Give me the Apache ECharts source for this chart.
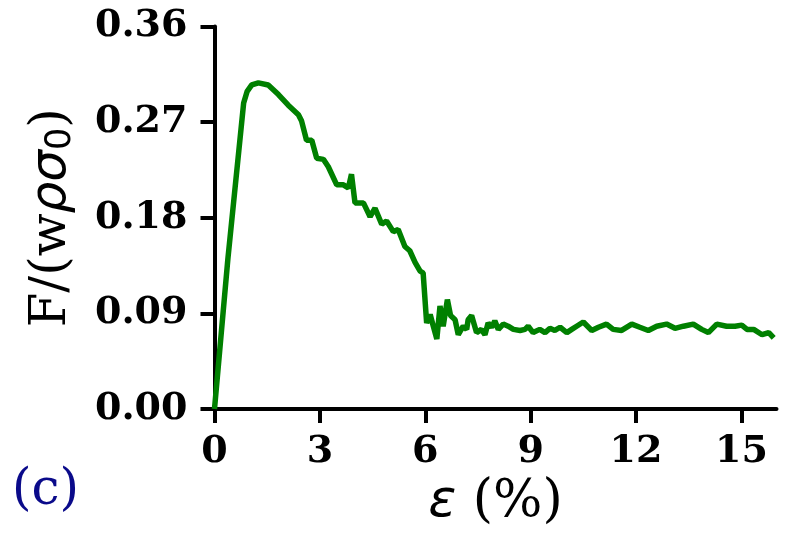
<!DOCTYPE html>
<html>
<head>
<meta charset="utf-8">
<script src="https://cdn.jsdelivr.net/npm/echarts@6/dist/echarts.min.js"></script>
<style>
html, body { margin: 0; padding: 0; background: #fff; }
#main { width: 793px; height: 533px; }
</style>
</head>
<body>
<div id="main"></div>
<script>
// strain (%) and normalised force
var strain = [0, 0.38, 0.83, 0.93, 1.06, 1.25, 1.53, 1.82, 2.10, 2.39, 2.48, 2.62, 2.77, 2.91, 3.10, 3.24,
	3.48, 3.67, 3.81, 3.90, 4.00, 4.24, 4.43, 4.57, 4.76, 4.90, 5.09, 5.23, 5.42, 5.56, 5.71, 5.85, 5.94,
	6.04, 6.14, 6.23, 6.33, 6.42, 6.51, 6.63, 6.72, 6.85, 6.94, 7.08, 7.18, 7.22, 7.32, 7.46, 7.60, 7.70,
	7.79, 7.89, 7.98, 8.08, 8.22, 8.36, 8.51, 8.70, 8.84, 8.93, 9.07, 9.26, 9.41, 9.55, 9.69, 9.84, 10.03,
	10.17, 10.31, 10.50, 10.74, 10.93, 11.16, 11.35, 11.59, 11.88, 12.11, 12.35, 12.59, 12.87, 13.11,
	13.35, 13.63, 13.87, 14.06, 14.30, 14.58, 14.82, 15.01, 15.16, 15.35, 15.59, 15.78, 15.92];
var force = [0, 0.141, 0.288, 0.299, 0.305, 0.307, 0.305, 0.296, 0.286, 0.277, 0.271, 0.253, 0.253, 0.236, 0.235, 0.228,
	0.211, 0.211, 0.208, 0.221, 0.194, 0.194, 0.181, 0.189, 0.174, 0.177, 0.167, 0.169, 0.153, 0.149, 0.138, 0.130, 0.128,
	0.081, 0.089, 0.078, 0.066, 0.097, 0.078, 0.103, 0.088, 0.084, 0.070, 0.078, 0.075, 0.084, 0.088, 0.072, 0.075, 0.070,
	0.081, 0.077, 0.083, 0.075, 0.080, 0.078, 0.075, 0.074, 0.075, 0.078, 0.072, 0.075, 0.072, 0.076, 0.074, 0.077, 0.072,
	0.075, 0.078, 0.082, 0.074, 0.077, 0.080, 0.075, 0.074, 0.080, 0.077, 0.074, 0.078, 0.080, 0.076,
	0.078, 0.080, 0.075, 0.072, 0.080, 0.078, 0.078, 0.079, 0.075, 0.075, 0.070, 0.072, 0.067];
var xTicks = [0, 3, 6, 9, 12, 15];
var yTicks = [0, 0.09, 0.18, 0.27, 0.36];

var points = [];
for (var i = 0; i < strain.length; i++) {
	points.push([strain[i], force[i]]);
}

var myChart = echarts.init(document.getElementById('main'));
var serif = 'DejaVu Serif';

option = {
	animation: false,
	backgroundColor: '#fff',
	grid: {
		left: 214.5,
		right: 16.5,
		top: 26.5,
		bottom: 123
	},
	graphic: [{
		type: 'text',
		left: 12,
		top: 466,
		style: {
			text: '(c)',
			fontFamily: serif,
			fontSize: 50,
			fill: '#0a0a8a'
		}
	}],
	xAxis: {
		type: 'value',
		min: 0,
		max: 16,
		interval: 3,
		name: '{i|ε} (%)',
		nameLocation: 'middle',
		nameGap: 50,
		nameTextStyle: {
			fontFamily: serif,
			fontSize: 52,
			color: '#000',
			rich: {
				i: { fontFamily: 'DejaVu Sans', fontStyle: 'italic', fontSize: 52 }
			}
		},
		axisLine: { lineStyle: { color: '#000', width: 4 } },
		axisTick: {
			length: 14,
			customValues: xTicks,
			lineStyle: { color: '#000', width: 4 }
		},
		axisLabel: {
			customValues: xTicks,
			margin: 24,
			fontFamily: serif,
			fontWeight: 'bold',
			fontSize: 38,
			color: '#000'
		},
		splitLine: { show: false }
	},
	yAxis: {
		type: 'value',
		min: 0,
		max: 0.36,
		interval: 0.09,
		name: 'F/(w{i|ρσ}{sub|0})',
		nameLocation: 'middle',
		nameGap: 136,
		nameTextStyle: {
			fontFamily: serif,
			fontSize: 50,
			color: '#000',
			rich: {
				i: { fontFamily: 'DejaVu Sans', fontStyle: 'italic', fontSize: 50 },
				sub: {
					fontFamily: 'DejaVu Sans',
					fontSize: 35,
					verticalAlign: 'bottom',
					padding: [18, 0, 0, 0]
				}
			}
		},
		axisLine: { show: true, lineStyle: { color: '#000', width: 4 } },
		axisTick: {
			show: true,
			length: 14,
			customValues: yTicks,
			lineStyle: { color: '#000', width: 4 }
		},
		axisLabel: {
			customValues: yTicks,
			margin: 27,
			fontFamily: serif,
			fontWeight: 'bold',
			fontSize: 38,
			color: '#000',
			formatter: function(v) {
				return v.toFixed(2);
			}
		},
		splitLine: { show: false }
	},
	series: [{
		type: 'line',
		data: points,
		showSymbol: false,
		smooth: false,
		lineStyle: { color: '#008000', width: 5.5 },
		itemStyle: { color: '#008000' }
	}]
};

myChart.setOption(option);
</script>
</body>
</html>
